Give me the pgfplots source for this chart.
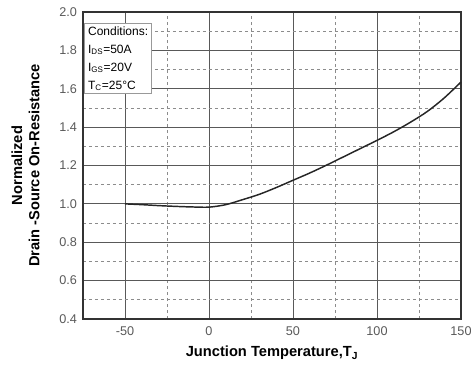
\documentclass[border=0pt]{standalone}
\usepackage{fontspec}
\setmainfont{Liberation Sans}
\usepackage{pgfplots}
\pgfplotsset{compat=1.18}
\begin{document}
\begin{tikzpicture}
\useasboundingbox (-62.25pt,-37.5pt) rectangle (291pt,239.25pt);
\begin{axis}[
  scale only axis,
  width=283.5pt, height=230.25pt,
  xmin=-75, xmax=150, ymin=0.4, ymax=2.0,
  xtick={-50,0,50,100,150},
  minor xtick={-25,25,75,125},
  ytick={0.4,0.6,...,2.0},
  minor ytick={0.5,0.7,...,1.9},
  yticklabel style={xshift=-1pt, /pgf/number format/.cd,fixed,fixed zerofill,precision=1},
  xticklabel style={yshift=-2pt},
  /pgf/number format/assume math mode=true,
  tick label style={font=\fontsize{9.5}{11}\selectfont, text=black!65},
  grid=both,
  major grid style={solid, black!65, line width=0.7pt},
  minor grid style={dashed, black!45, line width=0.6pt, dash pattern=on 2.5pt off 2pt},
  axis line style={black!80, line width=0.9pt},
  tick style={draw=none},
  xlabel={\textbf{Junction Temperature,T\textsubscript{J}}},
  ylabel={\textbf{Normalized}\\\textbf{Drain -Source On-Resistance}},
  every axis y label/.style={at={(axis description cs:-0.152,0.5)}, rotate=90, anchor=center,
    align=center, font=\fontsize{11}{13}\selectfont},
  every axis x label/.style={at={(axis description cs:0.5,-0.111)}, anchor=center,
    font=\fontsize{11}{13}\selectfont},
  clip=false,
]
\addplot[black!85, line width=1.1pt, smooth] coordinates {
(-50,1.000) (-40,0.996) (-30,0.991) (-20,0.987) (-10,0.984) (0,0.983)
(10,0.996) (20,1.022) (30,1.050) (40,1.085) (50,1.123) (60,1.161)
(70,1.202) (80,1.245) (90,1.288) (100,1.331) (110,1.376) (120,1.426)
(130,1.482) (140,1.552) (150,1.635)
};
\node[draw=black!40, fill=white, line width=0.7pt, anchor=north west, align=left,
  font=\fontsize{9}{13.5}\selectfont, inner sep=2.5pt]
  at (axis cs:-74.2,1.945)
  {Conditions:\\ I\textsubscript{DS}=50A\\ I\textsubscript{GS}=20V\\ T\textsubscript{C}=25\textdegree C};
\end{axis}
\end{tikzpicture}
\end{document}
